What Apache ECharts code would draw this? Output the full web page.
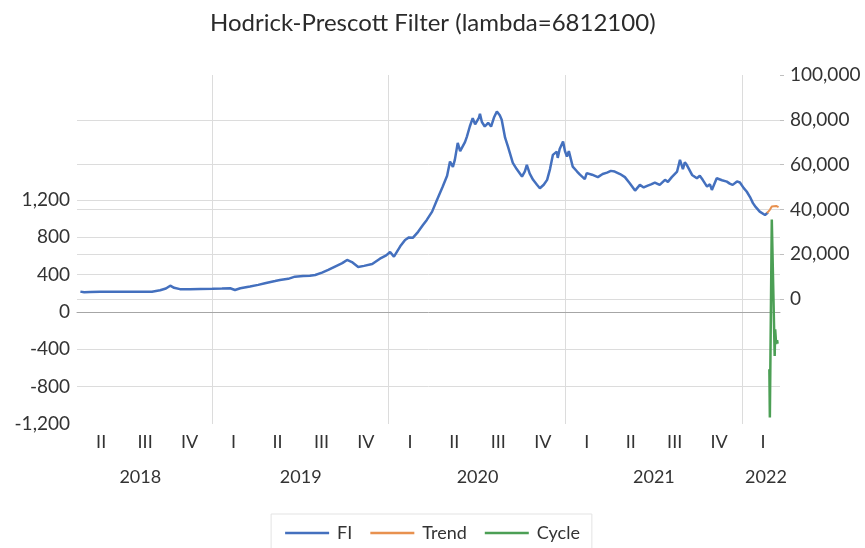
<!DOCTYPE html>
<html>
<head>
<meta charset="utf-8">
<script src="https://cdn.jsdelivr.net/npm/echarts@6/dist/echarts.min.js"></script>
<style>html,body{margin:0;padding:0;background:#fff}#c{width:865px;height:548px}</style>
</head>
<body>
<div id="c"></div>
<script>
// ---- data ----
const fiDates = ['2018-04-03','2018-04-11','2018-04-23','2018-05-14','2018-06-04','2018-06-24','2018-07-15','2018-08-05','2018-08-29','2018-09-15','2018-09-27','2018-10-06','2018-10-14','2018-10-26','2018-11-16','2018-12-07',
'2019-01-01','2019-01-21','2019-02-07','2019-02-17','2019-02-28','2019-03-20','2019-04-06','2019-04-20','2019-05-11','2019-05-21','2019-06-07','2019-06-21','2019-07-08','2019-07-22','2019-08-02','2019-08-16','2019-08-29','2019-09-12','2019-09-27','2019-10-07','2019-10-17','2019-10-30','2019-11-11','2019-11-28','2019-12-14','2019-12-27',
'2020-01-04','2020-01-12','2020-01-25','2020-02-04','2020-02-12','2020-02-20','2020-03-02','2020-03-12','2020-03-20','2020-03-31','2020-04-10','2020-04-22','2020-05-01','2020-05-07','2020-05-13','2020-05-17','2020-05-23','2020-05-28','2020-06-01','2020-06-07','2020-06-11','2020-06-17','2020-06-23','2020-06-28','2020-07-02','2020-07-06','2020-07-08','2020-07-12','2020-07-18','2020-07-25','2020-07-31','2020-08-06','2020-08-12','2020-08-18','2020-08-22','2020-08-29','2020-09-04','2020-09-08','2020-09-14','2020-09-22','2020-10-03','2020-10-09','2020-10-13','2020-10-19','2020-10-26','2020-11-03','2020-11-09','2020-11-17','2020-11-24','2020-11-30','2020-12-06','2020-12-10','2020-12-14','2020-12-16','2020-12-20','2020-12-27','2020-12-31',
'2021-01-04','2021-01-08','2021-01-12','2021-01-16','2021-01-25','2021-01-31','2021-02-10','2021-02-14','2021-02-25','2021-03-09','2021-03-19','2021-03-28','2021-04-05','2021-04-13','2021-04-24','2021-05-04','2021-05-14','2021-05-25','2021-06-04','2021-06-12','2021-06-19','2021-06-27','2021-07-05','2021-07-15','2021-07-26','2021-08-01','2021-08-09','2021-08-20','2021-08-26','2021-09-01','2021-09-05','2021-09-09','2021-09-20','2021-09-30','2021-10-06','2021-10-12','2021-10-21','2021-10-27','2021-10-31','2021-11-10','2021-11-21','2021-12-01','2021-12-07','2021-12-13','2021-12-22','2021-12-28',
'2022-01-05','2022-01-11','2022-01-18','2022-01-24','2022-01-30','2022-02-07','2022-02-18','2022-02-24'];
const fiValues = [3300,3000,3100,3200,3250,3200,3250,3250,3260,3900,4700,5950,5000,4400,4300,4500,
4600,4700,4800,4000,4800,5600,6300,7000,8000,8500,9000,9970,10300,10400,10700,11800,13000,14500,16000,17430,16500,14300,14800,15600,18000,19500,
21000,18900,23500,26370,27500,27300,30000,33000,35300,39000,44240,50190,55000,61360,59000,62100,69700,66000,65200,70000,72500,77000,80760,78000,78650,81000,82680,79000,77000,78650,77000,81000,83700,82000,80000,72000,68000,65100,60800,58000,54650,57000,59900,56000,53200,51000,49470,51000,53200,58000,64350,65200,65800,63000,67000,70300,66000,
63600,66000,65800,59100,56900,55500,53500,56200,55500,54400,55800,56400,57200,56900,55800,54400,51700,48400,50950,49800,50500,51200,52000,50950,53200,52300,54400,56900,62100,58000,61000,59900,55400,53900,55000,53200,50200,51200,48700,53900,53000,52400,51500,50950,52500,52000,
49500,48000,45500,42800,41000,39000,37500,38600];

const trendDates = ['2022-02-22','2022-02-28','2022-03-04','2022-03-08','2022-03-13','2022-03-18'];
const trendValues = [38300,39800,41250,40500,41560,41000];

const cycleDates = ['2022-02-27','2022-02-28','2022-03-04','2022-03-10','2022-03-11','2022-03-13','2022-03-15','2022-03-16'];
const cycleValues = [-613,-1131,992,-471,-185,-342,-303,-340];

const quarterDates = ['2018-05-16','2018-08-15','2018-11-15','2019-02-14','2019-05-16','2019-08-15','2019-11-15','2020-02-14','2020-05-16','2020-08-15','2020-11-15','2021-02-14','2021-05-16','2021-08-15','2021-11-15','2022-02-14'];
const quarterLabels = ['II','III','IV','I','II','III','IV','I','II','III','IV','I','II','III','IV','I'];
const yearDates = ['2018-08-05','2019-07-03','2020-07-03','2021-07-03','2022-02-20'];
const yearLabels = ['2018','2019','2020','2021','2022'];
const yearStarts = ['2019-01-01','2020-01-01','2021-01-01','2022-01-01'];

const leftTicks = [-1200,-800,-400,0,400,800,1200];
const rightTicks = [0,20000,40000,60000,80000,100000];

// ---- build ----
const ts = s => { const p = s.split('-'); return Date.UTC(+p[0], +p[1]-1, +p[2]); };
const pairs = (d, v) => d.map((x, i) => [ts(x), v[i]]);
const nearestLabel = (dates, labels) => {
  const t = dates.map(ts);
  return v => { let bi = 0, bd = Infinity; t.forEach((x, i) => { const dd = Math.abs(x - v); if (dd < bd) { bd = dd; bi = i; } }); return labels[bi]; };
};
const xMin = ts('2018-03-27'), xMax = ts('2022-03-21');
const FONT = 'Lato';
const fmt = v => Number(v).toLocaleString('en-US');
const GRID = '#dcdcdc';

const chart = echarts.init(document.getElementById('c'), null, {renderer: 'canvas'});
chart.setOption({
  animation: false,
  backgroundColor: '#fff',
  textStyle: {fontFamily: FONT},
  title: {
    text: 'Hodrick-Prescott Filter (lambda=6812100)',
    left: 205, top: 6,
    textStyle: {fontFamily: FONT, fontSize: 24, fontWeight: 'normal', color: '#2b2b2b'}
  },
  legend: {
    bottom: -8, left: 'center',
    data: ['FI', 'Trend', 'Cycle'],
    icon: 'rect',
    itemWidth: 44, itemHeight: 2.5, itemGap: 18,
    padding: [10, 12, 14, 14],
    borderColor: '#e3e3e3', borderWidth: 1,
    textStyle: {fontFamily: FONT, fontSize: 18, color: '#333', padding: [0, 0, 0, 3]}
  },
  grid: {left: 77, right: 85, top: 75, bottom: 124, containLabel: false},
  xAxis: [
    {
      type: 'value', min: xMin, max: xMax, scale: true,
      axisLine: {show: true, onZero: true, onZeroAxisIndex: 0, lineStyle: {color: '#a6a6a6', width: 1}},
      axisTick: {show: false, customValues: yearStarts.map(ts)},
      axisLabel: {show: false},
      splitLine: {show: true, lineStyle: {color: GRID, width: 1}}
    },
    {
      type: 'value', min: xMin, max: xMax, scale: true, position: 'bottom',
      axisLine: {show: false, onZero: false},
      axisTick: {show: false},
      splitLine: {show: false},
      axisLabel: {
        show: true, customValues: quarterDates.map(ts), margin: 9,
        fontFamily: FONT, fontSize: 18, color: '#333',
        formatter: nearestLabel(quarterDates, quarterLabels)
      }
    },
    {
      type: 'value', min: xMin, max: xMax, scale: true, position: 'bottom',
      axisLine: {show: false, onZero: false},
      axisTick: {show: false},
      splitLine: {show: false},
      axisLabel: {
        show: true, customValues: yearDates.map(ts), margin: 44,
        fontFamily: FONT, fontSize: 18, color: '#333',
        formatter: nearestLabel(yearDates, yearLabels)
      }
    }
  ],
  yAxis: [
    {
      type: 'value', position: 'left', min: -1200, max: 2540,
      axisLine: {show: false},
      axisTick: {show: false, customValues: [-800, -400, 400, 800, 1200]},
      axisLabel: {customValues: leftTicks, formatter: fmt, margin: 7, fontFamily: FONT, fontSize: 19, color: '#333'},
      splitLine: {show: true, lineStyle: {color: GRID, width: 1}}
    },
    {
      type: 'value', position: 'right', min: -55800, max: 100000,
      axisLine: {show: false},
      axisTick: {show: true, length: 4, inside: false, customValues: rightTicks, lineStyle: {color: '#bfbfbf'}},
      axisLabel: {customValues: rightTicks, formatter: fmt, margin: 10, fontFamily: FONT, fontSize: 19, color: '#333'},
      splitLine: {show: true, lineStyle: {color: [GRID, GRID, GRID, GRID, GRID, 'rgba(0,0,0,0)'], width: 1}}
    }
  ],
  series: [
    {name: 'FI', type: 'line', xAxisIndex: 0, yAxisIndex: 1, data: pairs(fiDates, fiValues),
      symbol: 'none', lineStyle: {width: 2.5, color: '#4470BE'}, itemStyle: {color: '#4470BE'}},
    {name: 'Trend', type: 'line', xAxisIndex: 0, yAxisIndex: 1, data: pairs(trendDates, trendValues),
      symbol: 'none', lineStyle: {width: 2, color: '#E8914F'}, itemStyle: {color: '#E8914F'}},
    {name: 'Cycle', type: 'line', xAxisIndex: 0, yAxisIndex: 0, data: pairs(cycleDates, cycleValues),
      symbol: 'none', lineStyle: {width: 2.5, color: '#4C9F55'}, itemStyle: {color: '#4C9F55'}}
  ]
});
</script>
</body>
</html>
